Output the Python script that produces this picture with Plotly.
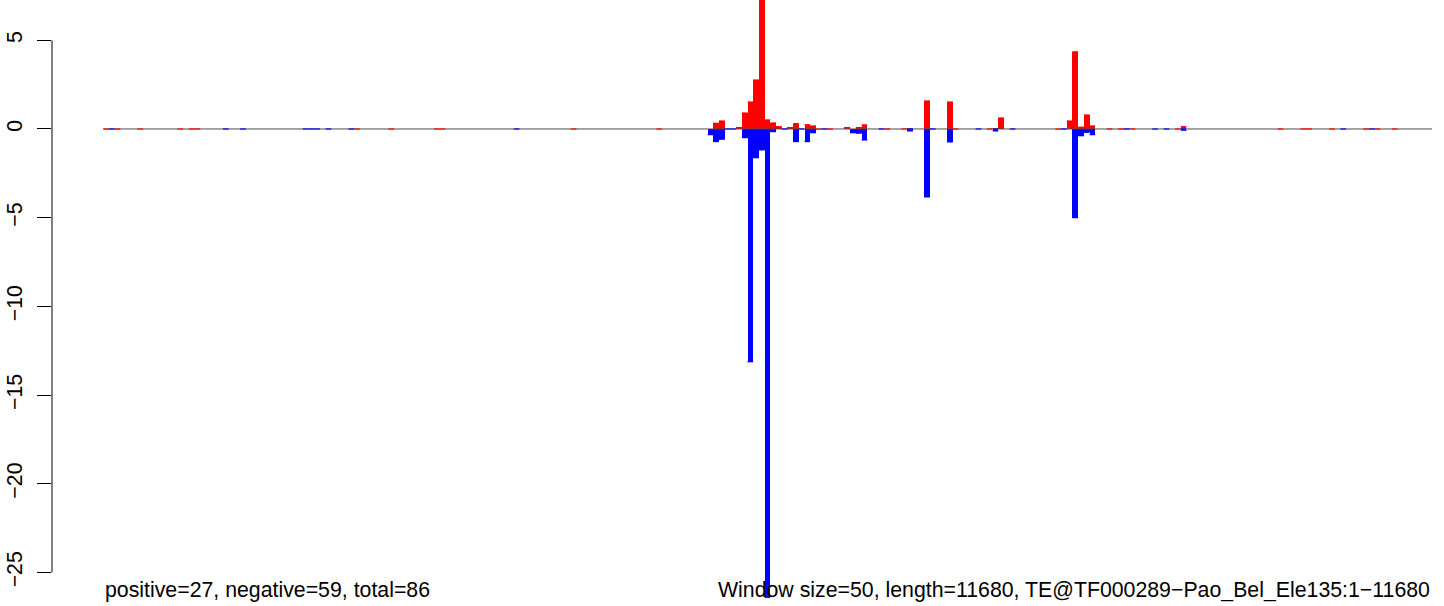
import plotly.graph_objects as go

WINDOW = 50
LENGTH = 11680
TE_NAME = "TE@TF000289\u2212Pao_Bel_Ele135:1\u221211680"

# positive (red) windows and values; 0 = drawn as a flat segment on the baseline
pos_windows = [0, 2, 6, 13, 15, 16, 44, 50, 58, 59, 82, 97,
               107, 108, 111, 112, 113, 114, 115, 116, 117, 118, 120, 121, 123, 124,
               125, 127, 130, 132, 133, 137, 140, 144, 148, 149, 155, 157,
               167, 169, 170, 171, 172, 173, 176, 178, 180, 188, 189,
               206, 210, 211, 215, 221, 223, 226]
pos_values = [0, 0, 0, 0, 0, 0, 0, 0, 0, 0, 0, 0,
              0.32, 0.45, 0.08, 0.90, 1.52, 2.76, 8.0, 0.51, 0.34, 0.13, 0.08, 0.30, 0.24, 0.17,
              0, 0, 0.08, 0.08, 0.23, 0, 0, 1.58, 1.52, 0, 0, 0.62,
              0, 0.45, 4.35, 0.10, 0.79, 0.17, 0, 0, 0, 0, 0.13,
              0, 0, 0, 0, 0, 0, 0]

# negative (blue) windows and values
neg_windows = [1, 21, 24, 35, 36, 37, 39, 43, 72,
               106, 107, 108, 109, 110, 112, 113, 114, 115, 116, 117, 119, 121, 122,
               123, 124, 126, 131, 132, 133, 136, 141, 144, 145, 148, 153, 156, 159,
               168, 170, 171, 172, 173, 179, 184, 186, 189,
               217, 222]
neg_values = [0, 0, 0, 0, 0, 0, 0, 0, 0,
              -0.32, -0.71, -0.58, 0, 0, -0.49, -13.12, -1.62, -1.18, -26.4, -0.15, 0, -0.71, 0,
              -0.71, -0.21, 0, -0.21, -0.24, -0.62, 0, -0.11, -3.83, 0, -0.73, 0, -0.11, 0,
              0, -5.0, -0.38, -0.19, -0.32, 0, 0, 0, -0.07,
              0, 0]

y_ticks = [-25, -20, -15, -10, -5, 0, 5]
left_text = "positive=27, negative=59, total=86"
right_text = f"Window size={WINDOW}, length={LENGTH}, {TE_NAME}"

RED = "#FF0000"
BLUE = "#0000FF"
FONT = "Liberation Sans, Arial, sans-serif"
FS = 21.3

fig = go.Figure()

# baseline
fig.add_trace(go.Scatter(x=[0, LENGTH], y=[0, 0], mode="lines",
                         line=dict(color="#4D4D4D", width=1), hoverinfo="skip",
                         showlegend=False))


def flat_segments(windows, values):
    xs, ys = [], []
    for w, v in zip(windows, values):
        xs += [w * WINDOW, (w + 1) * WINDOW, None]
        ys += [v, v, None]
    return xs, ys


for wins, vals, col in [(pos_windows, pos_values, RED), (neg_windows, neg_values, BLUE)]:
    xs, ys = flat_segments(wins, vals)
    fig.add_trace(go.Scatter(x=xs, y=ys, mode="lines", line=dict(color=col, width=1.2),
                             hoverinfo="skip", showlegend=False))
    bx = [w * WINDOW + WINDOW / 2 for w, v in zip(wins, vals) if v != 0]
    by = [v for v in vals if v != 0]
    fig.add_trace(go.Bar(x=bx, y=by, width=WINDOW, marker=dict(color=col, line=dict(width=0)),
                         showlegend=False))

PX_PER_BP = 5.701 / WINDOW
X0_PX = 103.3
L_MARGIN = 52
R_EDGE = 1432
x_range = [-(X0_PX - L_MARGIN) / PX_PER_BP, (R_EDGE - X0_PX) / PX_PER_BP]

fig.update_layout(
    width=1444, height=606,
    margin=dict(l=L_MARGIN, r=1444 - R_EDGE, t=0, b=0),
    plot_bgcolor="white", paper_bgcolor="white",
    barmode="overlay", bargap=0,
    font=dict(family=FONT, size=FS, color="black"),
    xaxis=dict(range=x_range, visible=False, showgrid=False, zeroline=False),
    yaxis=dict(range=[-26.89, 7.27], tickvals=y_ticks, ticks="outside", ticklen=14,
               tickwidth=1, tickcolor="black", tickangle=-90, showgrid=False,
               zeroline=False, showline=False, ticklabelstandoff=6, automargin=False,
               tickfont=dict(family=FONT, size=FS, color="black")),
    shapes=[dict(type="line", xref="paper", yref="y", x0=0, x1=0, y0=y_ticks[0], y1=y_ticks[-1],
                 line=dict(color="black", width=1))],
    annotations=[
        dict(text=left_text, xref="x", yref="paper", x=0, y=(606 - 590) / 606,
             xanchor="left", yanchor="middle", showarrow=False,
             font=dict(family=FONT, size=FS, color="black")),
        dict(text=right_text, xref="paper", yref="paper", x=1, y=(606 - 590) / 606,
             xanchor="right", yanchor="middle", showarrow=False,
             font=dict(family=FONT, size=FS, color="black")),
    ],
)

fig.write_html("out.html", config={"displayModeBar": False},
               post_script="document.body.style.margin='0';document.body.style.overflow='hidden';")
